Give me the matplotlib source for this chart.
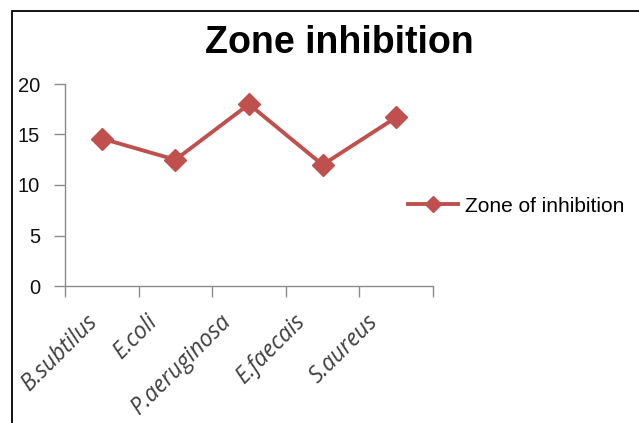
import numpy as np
import matplotlib
matplotlib.use('Agg')
import matplotlib.pyplot as plt
from matplotlib.patches import Rectangle
from matplotlib.transforms import ScaledTranslation

# data
categories = ['B.subtilus', 'E.coli', 'P.aeruginosa', 'E.faecais', 'S.aureus']
zone = [14.6, 12.5, 18.0, 12.0, 16.7]
yticks = [0, 5, 10, 15, 20]

red = '#C0504D'
axis_grey = '#8C8C8C'

plt.rcParams['font.family'] = ['Liberation Sans', 'DejaVu Sans']

fig = plt.figure(figsize=(6.39, 4.23), dpi=100)
ax = fig.add_axes([65 / 639, 1 - 286 / 423, 368 / 639, 202 / 423])

x = np.arange(1, len(categories) + 1)
ax.plot(x, zone, color=red, linewidth=2.8, marker='D', markersize=11.5,
        markeredgecolor=red, markerfacecolor=red, label='Zone of inhibition')

ax.set_xlim(0.5, len(categories) + 0.5)
ax.set_ylim(0, 20)
ax.set_yticks(yticks)
ax.set_yticklabels([str(v) for v in yticks], fontsize=14.5, color='#111111')

# tick marks on category boundaries, labels placed by hand below centres
ax.set_xticks(np.arange(0.5, len(categories) + 1, 1))
ax.set_xticklabels([])
ax.tick_params(axis='x', length=8, color=axis_grey, width=1)
ax.tick_params(axis='y', length=8, color=axis_grey, width=1, pad=10)

off = ScaledTranslation(-0.17, -0.37, fig.dpi_scale_trans)
labels = []
for xi, name in zip(x, categories):
    t = ax.text(xi, 0, name, transform=ax.get_xaxis_transform() + off,
                rotation=45, ha='right', va='baseline', rotation_mode='anchor',
                fontsize=16.5, color='#404040', family='Open Sans',
                style='italic', clip_on=False)
    labels.append(t)

for s in ['top', 'right']:
    ax.spines[s].set_visible(False)
for s in ['left', 'bottom']:
    ax.spines[s].set_color(axis_grey)
    ax.spines[s].set_linewidth(1)

fig.text(339 / 639, 1 - 43 / 423, 'Zone inhibition', ha='center', va='center',
         fontsize=27, fontweight='bold')

fig.legend(loc='center left', bbox_to_anchor=(408 / 639, 1 - 206 / 423),
           frameon=False, fontsize=15, handlelength=2.4, handletextpad=0.35,
           markerscale=0.75, borderaxespad=0, borderpad=0)

# outer chart frame (left and top edges visible)
fig.patches.append(Rectangle((11.5 / 639, -0.1), 2, 1.1 - 11.5 / 423,
                             transform=fig.transFigure, fill=False,
                             edgecolor='black', linewidth=1.3))

# like Excel, nudge a label right if it would run over the frame
fig.canvas.draw()
for t in labels:
    bb = t.get_window_extent()
    if bb.x0 < 16:
        t.set_transform(t.get_transform() +
                        ScaledTranslation((16 - bb.x0) / fig.dpi, 0,
                                          fig.dpi_scale_trans))

fig.savefig('out.png', dpi=100)
